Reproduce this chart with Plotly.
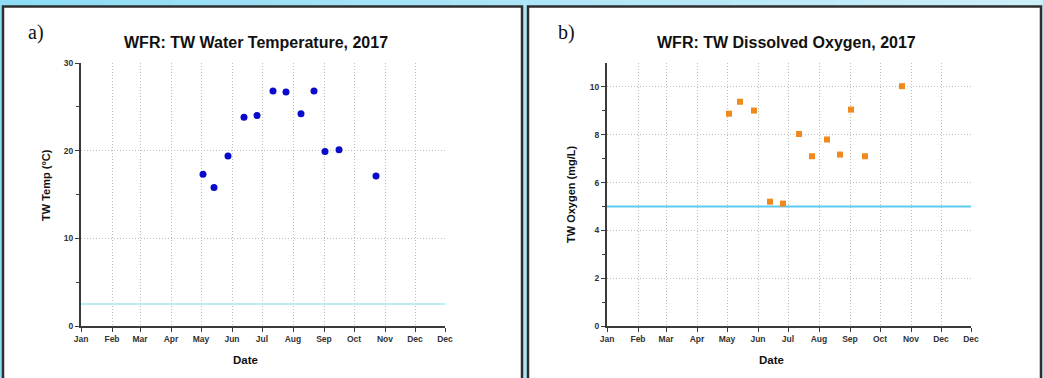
import plotly.graph_objects as go

# ---------------- data ----------------
sample_dates = ["2017-05-03", "2017-05-14", "2017-05-28", "2017-06-13", "2017-06-26",
                "2017-07-12", "2017-07-25", "2017-08-09", "2017-08-22", "2017-09-02",
                "2017-09-16", "2017-10-23"]
temp_values = [17.3, 15.8, 19.4, 23.8, 24.0, 26.8, 26.7, 24.2, 26.8, 19.9, 20.1, 17.1]
oxygen_values = [8.88, 9.38, 9.01, 5.20, 5.12, 8.03, 7.10, 7.80, 7.17, 9.05, 7.10, 10.03]
temp_threshold = 2.5
oxygen_threshold = 5.0
month_ticks = ["2017-01-01", "2017-02-01", "2017-03-01", "2017-04-01", "2017-05-01",
               "2017-06-01", "2017-07-01", "2017-08-01", "2017-09-01", "2017-10-01",
               "2017-11-01", "2017-12-01", "2017-12-31"]
month_labels = ["Jan", "Feb", "Mar", "Apr", "May", "Jun", "Jul", "Aug", "Sep", "Oct",
                "Nov", "Dec", "Dec"]
x_start, x_end = "2017-01-01", "2017-12-31"

W, H = 1043, 378
def px(x):
    return x / W
def py(y):
    return 1 - y / H

FONT = "Liberation Sans, Arial, sans-serif"
fig = go.Figure()

# temperature
fig.add_trace(go.Scatter(x=[x_start, x_end], y=[temp_threshold, temp_threshold], mode="lines",
                         line=dict(color="#bdeeee", width=2), xaxis="x", yaxis="y",
                         hoverinfo="skip", showlegend=False))
fig.add_trace(go.Scatter(x=sample_dates, y=temp_values, mode="markers",
                         marker=dict(color="#0a0acc", size=7, symbol="circle"),
                         xaxis="x", yaxis="y", showlegend=False))
# oxygen
fig.add_trace(go.Scatter(x=[x_start, x_end], y=[oxygen_threshold, oxygen_threshold], mode="lines",
                         line=dict(color="#5ccaf2", width=2), xaxis="x2", yaxis="y2",
                         hoverinfo="skip", showlegend=False))
fig.add_trace(go.Scatter(x=sample_dates, y=oxygen_values, mode="markers",
                         marker=dict(color="#f0891e", size=6, symbol="square"),
                         xaxis="x2", yaxis="y2", showlegend=False))

GRID = "#bdbdbd"
xcommon = dict(type="date", range=[x_start, x_end], tickvals=month_ticks, ticktext=month_labels,
               showgrid=True, gridcolor=GRID, griddash="1px,2px", gridwidth=1,
               showline=True, linecolor="#3a3a3a", linewidth=2, ticks="outside", ticklen=4,
               tickcolor="#3a3a3a", tickfont=dict(family=FONT, size=8.5, color="#333", weight="bold"),
               zeroline=False, fixedrange=True, automargin=False)
ycommon = dict(showgrid=True, gridcolor=GRID, griddash="1px,2px", gridwidth=1,
               showline=True, linecolor="#3a3a3a", linewidth=2, ticks="outside", ticklen=4,
               tickcolor="#3a3a3a", tickfont=dict(family=FONT, size=8.5, color="#333", weight="bold"),
               zeroline=False, fixedrange=True, automargin=False)

ydom = [py(326), py(63)]
fig.update_layout(
    width=W, height=H,
    margin=dict(l=0, r=0, t=0, b=0, pad=0),
    paper_bgcolor="#a6e3f6",
    plot_bgcolor="rgba(0,0,0,0)",
    showlegend=False,
    xaxis=dict(domain=[px(81), px(445)], anchor="y", **xcommon),
    yaxis=dict(domain=ydom, anchor="x", range=[0, 30], tickvals=[0, 10, 20, 30],
               minor=dict(ticks="outside", ticklen=3, tickvals=[5, 15, 25], tickcolor="#3a3a3a", showgrid=False),
               **ycommon),
    xaxis2=dict(domain=[px(607), px(971)], anchor="y2", **xcommon),
    yaxis2=dict(domain=ydom, anchor="x2", range=[0, 11], tickvals=[0, 2, 4, 6, 8, 10],
                minor=dict(ticks="outside", ticklen=3, tickvals=[1, 3, 5, 7, 9], tickcolor="#3a3a3a", showgrid=False),
                **ycommon),
)

# background gradient strips and panels
shapes = []
n = 30
c0 = (0x8e, 0xdc, 0xf6)
c1 = (0xcb, 0xee, 0xf8)
for i in range(n):
    t = i / (n - 1)
    c = tuple(int(round(a + (b - a) * t)) for a, b in zip(c0, c1))
    shapes.append(dict(type="rect", xref="paper", yref="paper", x0=i / n, x1=(i + 1) / n + 0.002,
                       y0=0, y1=1, fillcolor="rgb(%d,%d,%d)" % c, line=dict(width=0), layer="below"))
for x0, x1 in [(3, 522), (528, 1041)]:
    shapes.append(dict(type="rect", xref="paper", yref="paper", x0=px(x0), x1=px(x1),
                       y0=py(390), y1=py(6.5), fillcolor="white",
                       line=dict(color="#2e2e2e", width=2.5), layer="below"))
fig.update_layout(shapes=shapes)

ann = []
def add_text(text, x, y, size, family=FONT, angle=0, bold=True, color="#111"):
    ann.append(dict(text=text, x=px(x), y=py(y), xref="paper", yref="paper", showarrow=False,
                    xanchor="center", yanchor="middle", textangle=angle,
                    font=dict(family=family, size=size, color=color, weight="bold" if bold else "normal")))

add_text("a)", 36, 32, 20, family="Liberation Serif, Times New Roman, serif", bold=False)
add_text("b)", 566, 32, 20, family="Liberation Serif, Times New Roman, serif", bold=False)
add_text("WFR: TW Water Temperature, 2017", 256, 43, 16)
add_text("WFR: TW Dissolved Oxygen, 2017", 786, 43, 16)
add_text("TW Temp (°C)", 46, 185, 11, angle=-90)
add_text("TW Oxygen (mg/L)", 571, 194, 11, angle=-90)
add_text("Date", 245, 360, 11.5)
add_text("Date", 771, 360, 11.5)
fig.update_layout(annotations=ann)

fig.write_html("out.html", config={"displayModeBar": False},
               post_script="document.body.style.margin='0';document.body.style.overflow='hidden';")
